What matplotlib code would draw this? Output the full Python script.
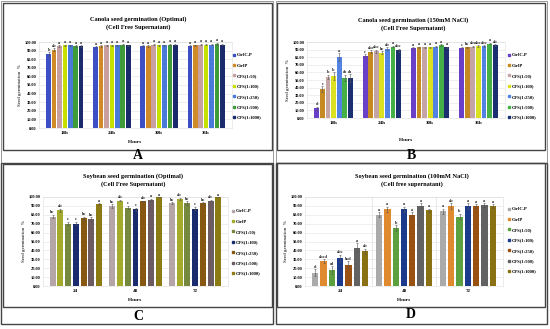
import numpy as np
import matplotlib
matplotlib.use('Agg')
import matplotlib.pyplot as plt
from matplotlib.patches import Rectangle
from matplotlib.lines import Line2D

# Tratamentos (legenda comum aos quatro painéis)
tratamentos = ['CtrlC.P', 'CtrlP', 'CFS(1:50)', 'CFS(1:100)', 'CFS(1:250)', 'CFS(1:500)', 'CFS(1:1000)']

# Painel A: canola, ótimo
horas_a = ['18h', '24h', '30h', '36h']
vals_a = [[86, 94, 95, 95],
          [91, 95, 95, 96],
          [95, 96, 97, 97],
          [96, 96, 96, 97],
          [96, 96, 96, 97],
          [95, 97, 97, 98],
          [95, 96, 97, 97]]
err_a = [[2, 1, 1, 1], [2, 1, 1, 1], [1, 1, 1, 1], [1, 1, 1, 1],
         [1, 1, 1, 1], [1, 1, 1, 1], [1, 1, 1, 1]]
let_a = [['b', 'a', 'a', 'a'], ['ab', 'a', 'a', 'a'], ['a', 'a', 'a', 'a'], ['a', 'a', 'a', 'a'],
         ['a', 'a', 'a', 'a'], ['a', 'a', 'a', 'a'], ['a', 'a', 'a', 'a']]

# Painel B: canola, 150mM NaCl
horas_b = ['18h', '24h', '30h', '36h']
vals_b = [[13, 82, 92, 92],
          [38, 87, 93, 93],
          [54, 88, 93, 94],
          [55, 86, 93, 95],
          [80, 91, 94, 95],
          [53, 94, 96, 98],
          [53, 89, 93, 96]]
err_b = [[2, 2, 1, 1], [4, 2, 1, 1], [3, 2, 1, 1], [5, 2, 1, 1],
         [5, 2, 1, 1], [4, 1, 1, 1], [5, 2, 1, 1]]
let_b = [['d', 'c', 'a', 'c'], ['c', 'abc', 'a', 'bc'], ['b', 'abc', 'a', 'abc'], ['b', 'bc', 'a', 'abc'],
         ['a', 'ab', 'a', 'abc'], ['cb', 'a', 'a', 'a'], ['cb', 'abc', 'a', 'ab']]

# Painel C: soja, ótimo
horas_c = ['24', '48', '72']
vals_c = [[78, 90, 93],
          [85, 96, 98],
          [70, 88, 93],
          [70, 86, 87],
          [76, 95, 93],
          [75, 97, 96],
          [92, 100, 100]]
err_c = [[2, 2, 1], [2, 1, 1], [2, 2, 2], [2, 2, 2], [2, 1, 1], [2, 1, 1], [1, 0, 0]]
let_c = [['bc', 'bc', 'bc'], ['ab', 'ab', 'ab'], ['c', 'c', 'bc'], ['c', 'c', 'c'],
         ['bc', 'ab', 'bc'], ['bc', 'a', 'ab'], ['a', 'a', 'a']]

# Painel D: soja, 100mM NaCl
horas_d = ['24', '48', '72']
vals_d = [[15, 80, 84],
          [28, 86, 90],
          [18, 65, 78],
          [31, 86, 90],
          [24, 80, 90],
          [43, 90, 91],
          [39, 85, 90]]
err_d = [[4, 3, 3], [2, 3, 3], [4, 3, 3], [4, 3, 3], [4, 3, 2], [5, 3, 2], [3, 2, 2]]
let_d = [['d', 'a', 'a'], ['abcd', 'a', 'ab'], ['cd', 'b', 'b'], ['abc', 'a', 'a'],
         ['bcd', 'a', 'a'], ['a', 'a', 'a'], ['ab', 'a', 'a']]

cores_a = ['#3d4fc4', '#d08a28', '#c9a0a0', '#c6e000', '#4a7ad8', '#3f9a3a', '#1b2a6b']
cores_b = ['#6a3fc8', '#c68a22', '#c4a4a4', '#dbe020', '#5383e2', '#45b045', '#1c2f70']
cores_c = ['#b4a6a6', '#a4aa2c', '#76883e', '#1b2c6e', '#875812', '#6c5c62', '#8c7a12']
cores_d = ['#aaaaaa', '#e08a30', '#5ca040', '#1c3a8c', '#9a5212', '#626262', '#8a7214']

W, H = 550, 329
fig = plt.figure(figsize=(W / 100, H / 100), dpi=100)
plt.rcParams['font.family'] = 'Liberation Serif'
plt.rcParams['font.weight'] = 'bold'


def caixa(x0, y0, x1, y1):
    return [x0 / W, 1 - y1 / H, (x1 - x0) / W, (y1 - y0) / H]


def moldura(x0, y0, x1, y1, lw=1.0, cor='#444444'):
    fig.patches.append(Rectangle((x0 / W, 1 - y1 / H), (x1 - x0) / W, (y1 - y0) / H,
                                 transform=fig.transFigure, fill=False, lw=lw, ec=cor))


def painel(ax_px, horas, vals, erros, letras, cores, titulo, tit_xy, leg_px, xlab_y,
           passo, largura, vgrid=False):
    ax = fig.add_axes(caixa(*ax_px))
    x = np.arange(len(horas))
    n = len(vals)
    for i in range(n):
        pos = x + (i - (n - 1) / 2) * passo
        ax.bar(pos, vals[i], largura, color=cores[i], label=tratamentos[i], zorder=3)
        ax.errorbar(pos, vals[i], yerr=erros[i], fmt='none', ecolor='#555555',
                    elinewidth=0.4, capsize=0.8, capthick=0.4, zorder=4)
        for p, v, e, l in zip(pos, vals[i], erros[i], letras[i]):
            ax.text(p, v + e + 0.5, l, ha='center', va='bottom', fontsize=3.2,
                    color='#222222', zorder=5)
    ax.set_ylim(0, 100)
    ax.set_xlim(-0.55, len(horas) - 0.45)
    ax.set_yticks(np.arange(0, 101, 10))
    ax.set_yticklabels(['%.2f' % t for t in np.arange(0, 101, 10)], fontsize=3.2)
    ax.set_xticks(x)
    ax.set_xticklabels(horas, fontsize=3.6)
    ax.tick_params(length=0, pad=2)
    ax.set_ylabel('Seed germination  %', fontsize=3.6, labelpad=2)
    ax.grid(axis='y', color='#e4e4e4', lw=0.4, zorder=0)
    if vgrid:
        for g in x[:-1]:
            ax.axvline(g + 0.5, color='#dddddd', lw=0.5, zorder=0)
    for s in ax.spines.values():
        s.set_color('#dddddd')
        s.set_linewidth(0.4)
    fig.text(tit_xy[0] / W, 1 - tit_xy[1] / H, titulo, ha='center', va='center',
             fontsize=4.6, linespacing=1.5)
    cx = (ax_px[0] + ax_px[2]) / 2
    fig.text(cx / W, 1 - xlab_y / H, 'Hours', ha='center', va='center', fontsize=3.8)
    handles = [Line2D([], [], marker='s', ls='', color=c, markersize=2) for c in cores]
    fig.legend(handles, tratamentos, loc='upper left',
               bbox_to_anchor=(leg_px[0] / W, 1 - leg_px[1] / H), fontsize=3.3,
               frameon=False, labelspacing=1.35, handletextpad=0.2, handlelength=0.6,
               borderaxespad=0, borderpad=0)
    return ax


# Molduras dos painéis
moldura(3, 3, 272, 150)
moldura(277, 3, 545, 150)
moldura(3, 164, 272, 307)
moldura(277, 163, 545, 307)
moldura(1, 1, 273, 163, lw=0.6, cor='#888888')
moldura(276, 1, 547, 163, lw=0.6, cor='#888888')
moldura(1, 163, 273, 324, lw=1.0, cor='#444444')
moldura(276, 163, 547, 324, lw=1.0, cor='#444444')

painel((39, 42, 232, 128), horas_a, vals_a, err_a, let_a, cores_a,
       'Canola seed germination (Optimal)\n(Cell Free Supernatant)', (138, 23),
       (233, 53), 142, 0.115, 0.1)
painel((307, 42, 505, 118), horas_b, vals_b, err_b, let_b, cores_b,
       'Canola seed germination (150mM NaCl)\n(Cell Free Supernatant)', (413, 24),
       (508, 53), 140, 0.115, 0.1)
painel((43, 197, 228, 286), horas_c, vals_c, err_c, let_c, cores_c,
       'Soybean seed germination (Optimal)\n(Cell Free Supernatant)', (133, 180),
       (232, 209), 300, 0.13, 0.1)
painel((305, 197, 503, 286), horas_d, vals_d, err_d, let_d, cores_d,
       'Soybean seed germinaiton (100mM NaCl)\n(Cell free supernatant)', (412, 180),
       (508, 207), 300, 0.13, 0.1, vgrid=True)

# Letras dos painéis
for letra, xp, yp in [('A', 138, 156), ('B', 411, 156), ('C', 138, 316), ('D', 411, 315)]:
    fig.text(xp / W, 1 - yp / H, letra, ha='center', va='center', fontsize=10, fontweight='bold')

fig.savefig('out.png', dpi=100)
